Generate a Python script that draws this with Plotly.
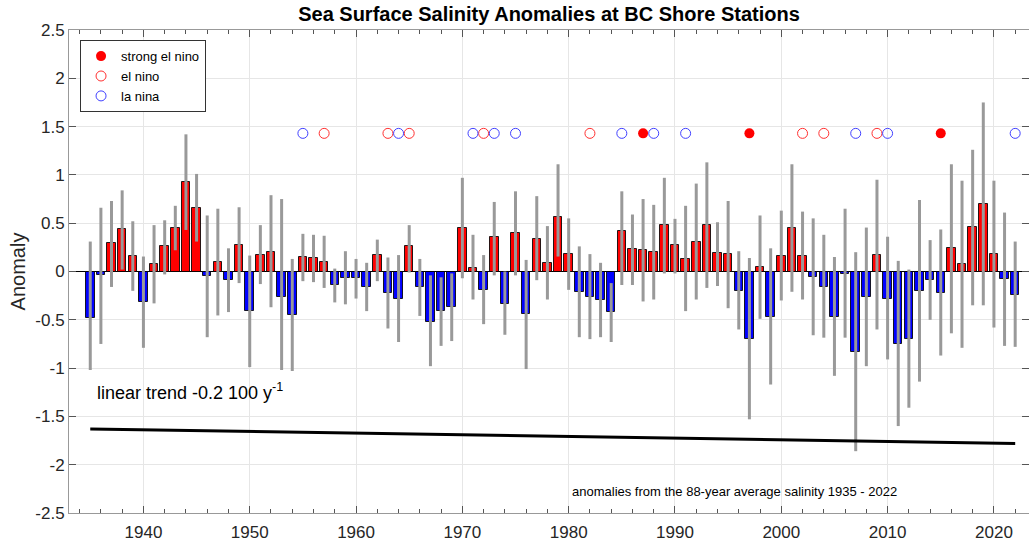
import plotly.graph_objects as go

years = list(range(1935, 2023))

anomaly = [
    -0.48, -0.04, 0.29, 0.44, 0.165, -0.32, 0.076, 0.26, 0.45, 0.93,
    0.655, -0.05, 0.097, -0.093, 0.27, -0.41, 0.17, 0.20, -0.26, -0.455,
    0.145, 0.135, 0.10, -0.14, -0.07, -0.07, -0.16, 0.175, -0.22, -0.28,
    0.26, -0.16, -0.52, -0.41, -0.37, 0.45, 0.04, -0.19, 0.36, -0.335,
    0.40, -0.44, 0.34, 0.093, 0.56, 0.18, -0.21, -0.26, -0.30, -0.42,
    0.42, 0.23, 0.22, 0.20, 0.48, 0.27, 0.13, 0.31, 0.48, 0.19,
    0.18, -0.20, -0.70, 0.045, -0.47, 0.16, 0.45, 0.16, -0.055, -0.16,
    -0.47, -0.024, -0.83, -0.26, 0.17, -0.28, -0.75, -0.70, -0.20, -0.09,
    -0.22, 0.24, 0.08, 0.46, 0.70, 0.18, -0.08, -0.24,
]

# top and bottom ends of the grey error bars
err_top = [
    0.31, 0.66, 0.73, 0.84, 0.52, 0.155, 0.48, 0.53, 0.68, 1.42,
    1.01, 0.58, 0.65, 0.24, 0.665, 0.165, 0.48, 0.79, 0.75, 0.13,
    0.39, 0.38, 0.37, 0.03, 0.21, 0.13, 0.09, 0.33, 0.145, 0.17,
    0.48, 0.13, -0.04, -0.06, -0.02, 0.97, 0.38, 0.17, 0.72, 0.00,
    0.83, 0.12, 0.78, 0.47, 1.11, 0.55, 0.26, 0.18, 0.09, -0.12,
    0.83, 0.59, 0.75, 0.69, 0.97, 0.545, 0.68, 0.91, 1.13, 0.51,
    0.73, 0.21, 0.14, 0.58, 0.24, 0.63, 1.11, 0.62, 0.55, 0.38,
    0.15, 0.65, 0.20, 0.455, 0.95, 0.36, 0.11, 0.02, 0.74, 0.325,
    0.435, 1.11, 0.94, 1.26, 1.75, 0.94, 0.61, 0.31,
]
err_bottom = [
    -1.02, -0.75, -0.16, 0.02, -0.20, -0.79, -0.33, -0.03, 0.22, 0.43,
    0.31, -0.68, -0.455, -0.42, -0.12, -0.99, -0.13, -0.37, -1.02, -1.03,
    -0.10, -0.11, -0.17, -0.32, -0.34, -0.28, -0.41, -0.10, -0.59, -0.73,
    -0.01, -0.46, -0.98, -0.77, -0.72, -0.07, -0.29, -0.545, -0.04, -0.655,
    -0.04, -1.01, -0.09, -0.29, 0.155, -0.19, -0.68, -0.70, -0.68, -0.73,
    -0.14, -0.14, -0.31, -0.29, -0.02, -0.02, -0.41, -0.29, -0.17, -0.15,
    -0.38, -0.60, -1.53, -0.49, -1.17, -0.30, -0.21, -0.29, -0.66, -0.685,
    -1.08, -0.685, -1.86, -0.98, -0.60, -0.91, -1.60, -1.41, -1.14, -0.50,
    -0.87, -0.64, -0.79, -0.35, -0.35, -0.58, -0.77, -0.78,
]

strong_el_nino = [1987, 1997, 2015]
el_nino = [1957, 1963, 1965, 1972, 1982, 2002, 2004, 2009]
la_nina = [1955, 1964, 1971, 1973, 1975, 1985, 1988, 1991, 2007, 2010, 2022]
enso_level = 1.43

trend_years = [1935, 2022]
trend_values = [-1.63, -1.78]

y_tick_values = [-2.5, -2, -1.5, -1, -0.5, 0, 0.5, 1, 1.5, 2, 2.5]
y_tick_labels = ["-2.5", "-2", "-1.5", "-1", "-0.5", "0", "0.5", "1", "1.5", "2", "2.5"]

FONT = "Liberation Sans, Arial, sans-serif"

bar_colors = ["#ff0000" if v >= 0 else "#0000ff" for v in anomaly]

fig = go.Figure()
fig.add_trace(go.Bar(
    x=years,
    y=anomaly,
    width=0.8,
    marker=dict(color=bar_colors, line=dict(color="rgba(0,0,0,0.85)", width=1)),
    error_y=dict(
        type="data",
        symmetric=False,
        array=[t - v for t, v in zip(err_top, anomaly)],
        arrayminus=[v - b for b, v in zip(err_bottom, anomaly)],
        color="#999999",
        thickness=3,
        width=0,
    ),
    showlegend=False,
    hoverinfo="x+y",
))

fig.add_trace(go.Scatter(
    x=trend_years, y=trend_values, mode="lines",
    line=dict(color="black", width=3), showlegend=False,
))

fig.add_trace(go.Scatter(
    x=strong_el_nino, y=[enso_level] * len(strong_el_nino), mode="markers",
    name="strong el nino", marker=dict(symbol="circle", color="#ff0000", size=10),
))
fig.add_trace(go.Scatter(
    x=el_nino, y=[enso_level] * len(el_nino), mode="markers",
    name="el nino",
    marker=dict(symbol="circle-open", color="#ff3030", size=10, line=dict(width=1)),
))
fig.add_trace(go.Scatter(
    x=la_nina, y=[enso_level] * len(la_nina), mode="markers",
    name="la nina",
    marker=dict(symbol="circle-open", color="#4040ff", size=10, line=dict(width=1)),
))

fig.add_annotation(
    x=1935.45, y=-1.245, xref="x", yref="y", xanchor="left", yanchor="middle",
    text="linear trend -0.2 100 y<sup>-1</sup>", showarrow=False,
    font=dict(family=FONT, size=18, color="black"),
)
fig.add_annotation(
    x=1980.1, y=-2.277, xref="x", yref="y", xanchor="left", yanchor="middle",
    text="anomalies from the 88-year average salinity 1935 - 2022", showarrow=False,
    font=dict(family=FONT, size=13, color="black"),
)

fig.update_layout(
    width=1029,
    height=544,
    margin=dict(l=69, r=0, t=30, b=31, autoexpand=False),
    paper_bgcolor="white",
    plot_bgcolor="white",
    font=dict(family=FONT, color="#262626"),
    title=dict(
        text="<b>Sea Surface Salinity Anomalies at BC Shore Stations</b>",
        x=0.5, xref="paper", xanchor="center",
        y=1 - 14 / 544, yanchor="middle",
        font=dict(family=FONT, size=20, color="black"),
    ),
    legend=dict(
        x=0.0115, y=0.979, xanchor="left", yanchor="top",
        bgcolor="white", bordercolor="#333333", borderwidth=1,
        font=dict(family=FONT, size=13, color="black"),
        tracegroupgap=0,
    ),
    bargap=0,
)

fig.update_xaxes(
    range=[1933, 2023.3],
    tick0=1940, dtick=10,
    ticks="inside", ticklen=7, tickcolor="#555555",
    minor=dict(dtick=2, tick0=1940, ticks="inside", ticklen=4, tickcolor="#555555", showgrid=False),
    showgrid=True, gridcolor="#e6e6e6",
    showline=True, linecolor="#999999", linewidth=1, mirror="ticks",
    tickfont=dict(family=FONT, size=17, color="#262626"),
    ticklabelstandoff=4,
    zeroline=False,
    automargin=False,
)
fig.update_yaxes(
    range=[-2.5, 2.5],
    tickmode="array", tickvals=y_tick_values, ticktext=y_tick_labels,
    ticks="inside", ticklen=7, tickcolor="#555555",
    showgrid=True, gridcolor="#e6e6e6",
    showline=True, linecolor="#999999", linewidth=1, mirror="ticks",
    zeroline=True, zerolinecolor="#000000", zerolinewidth=1,
    tickfont=dict(family=FONT, size=17, color="#262626"),
    title=dict(text="Anomaly", font=dict(family=FONT, size=20, color="#262626"), standoff=4),
    automargin=False,
)

fig.write_html(
    "out.html",
    config={"displayModeBar": False},
    post_script="document.body.style.margin='0';document.body.style.overflow='hidden';",
)
